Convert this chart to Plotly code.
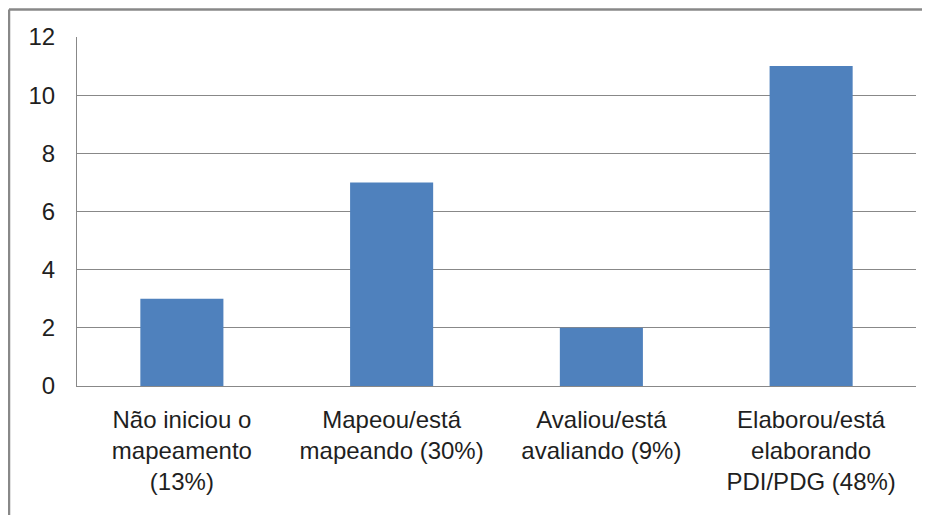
import plotly.graph_objects as go

categories = [
    "Não iniciou o<br>mapeamento<br>(13%)",
    "Mapeou/está<br>mapeando (30%)",
    "Avaliou/está<br>avaliando (9%)",
    "Elaborou/está<br>elaborando<br>PDI/PDG (48%)",
]
values = [3, 7, 2, 11]
y_ticks = [0, 2, 4, 6, 8, 10, 12]

# page has an 8px body margin, so the figure starts at (8, 8)
W, H = 922, 507
L, R, T, B = 69, 14, 28.5, 128.5
pw, ph = W - L - R, H - T - B

fig = go.Figure(go.Bar(x=categories, y=values, marker=dict(color="#4F81BD", line=dict(width=0)),
                       hoverinfo="skip"))

font = dict(family="Liberation Sans, Arial, sans-serif", size=24, color="#1f1f1f")

fig.update_layout(
    width=W, height=H,
    margin=dict(l=L, r=R, t=T, b=B, pad=0),
    paper_bgcolor="white", plot_bgcolor="white",
    bargap=0.604,
    showlegend=False,
    font=font,
    xaxis=dict(showgrid=False, showline=True, linecolor="#888888", linewidth=1,
               ticks="", tickfont=font, ticklabelstandoff=12, fixedrange=True),
    yaxis=dict(range=[0, 12], tickvals=y_ticks, showgrid=True, gridcolor="#888888", gridwidth=1,
               showline=True, linecolor="#888888", linewidth=1, zeroline=False,
               ticks="", tickfont=font, ticklabelstandoff=16, fixedrange=True),
    shapes=[
        dict(type="line", xref="paper", yref="paper",
             x0=(1 - L) / pw, x1=(W + 10 - L) / pw, y0=1 + (T - 1) / ph, y1=1 + (T - 1) / ph,
             line=dict(color="#888888", width=2.5)),
        dict(type="line", xref="paper", yref="paper",
             x0=(1 - L) / pw, x1=(1 - L) / pw, y0=1 + (T - 1) / ph, y1=-(B + 10) / ph,
             line=dict(color="#888888", width=2.5)),
    ],
)

fig.write_html("out.html", config={"displayModeBar": False})
